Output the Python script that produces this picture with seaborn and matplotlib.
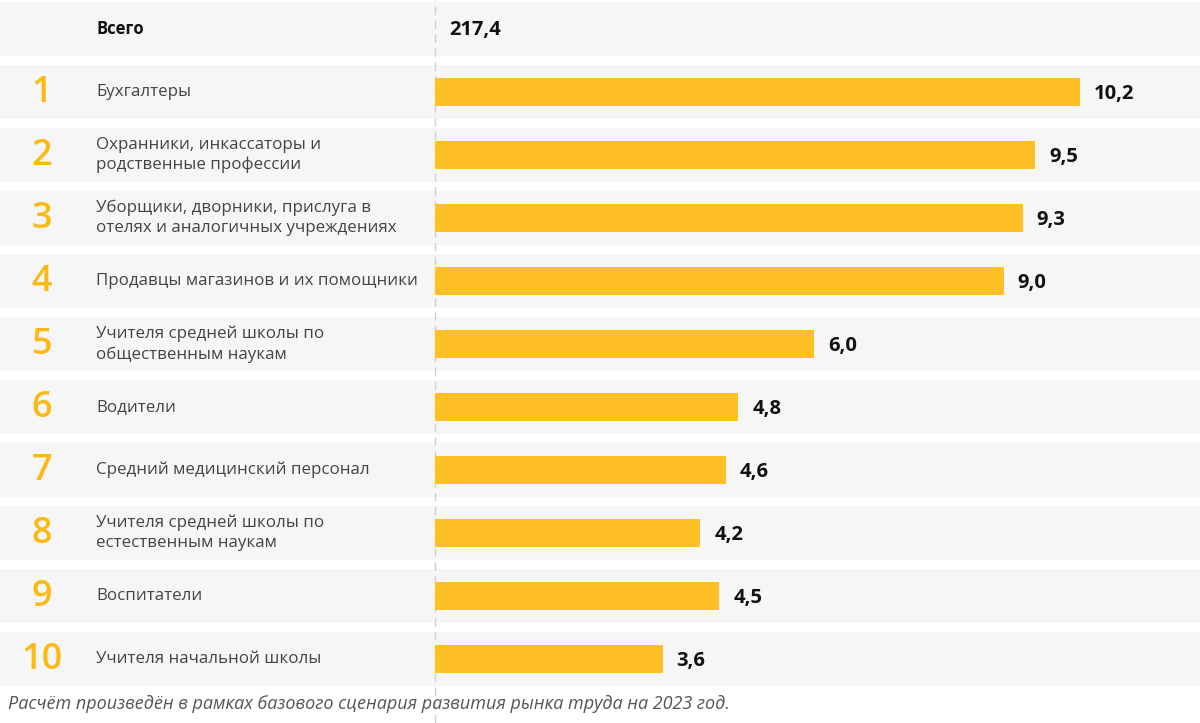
import pandas as pd
import seaborn as sns
import matplotlib.pyplot as plt

# данные
ranks = [1, 2, 3, 4, 5, 6, 7, 8, 9, 10]
professions = [
    'Бухгалтеры',
    'Охранники, инкассаторы и\nродственные профессии',
    'Уборщики, дворники, прислуга в\nотелях и аналогичных учреждениях',
    'Продавцы магазинов и их помощники',
    'Учителя средней школы по\nобщественным наукам',
    'Водители',
    'Средний медицинский персонал',
    'Учителя средней школы по\nестественным наукам',
    'Воспитатели',
    'Учителя начальной школы',
]
values = [10.2, 9.5, 9.3, 9.0, 6.0, 4.8, 4.6, 4.2, 4.5, 3.6]
total_label = 'Всего'
total_value = 217.4
footnote = 'Расчёт произведён в рамках базового сценария развития рынка труда на 2023 год.'

df = pd.DataFrame({'rank': ranks, 'profession': professions, 'value': values})

sns.set_style('white')
plt.rcParams['font.family'] = ['Open Sans', 'DejaVu Sans']

fig = plt.figure(figsize=(12, 7.23), dpi=100)
ax = fig.add_axes([0, 0, 1, 1])

# масштаб: 0 -> x=435 px, 63.2 px на единицу; строки через 63 px
px = 63.2
ax.set_xlim(-435 / px, (1200 - 435) / px)
ax.set_ylim((723 - 29) / 63, -29 / 63)

# серые полосы
for i in range(11):
    ax.axhspan(i - 0.43, i + 0.43, color='#f6f6f6', zorder=0, lw=0)

ax.axvline(0, color='#cfcfcf', lw=1, ls=(0, (6, 4)), zorder=1)

sns.barplot(data=df, x='value', y='rank', orient='h', native_scale=True,
            color='#ffc026', saturation=1, width=0.46, linewidth=0,
            ax=ax, zorder=2)

# строка "Всего"
ax.text(-339 / px, 0, total_label, fontsize=12, fontweight='bold',
        color='#111111', va='center', ha='left')
ax.text(14 / px, 0.02, f'{total_value:.1f}'.replace('.', ','), fontsize=14.5,
        fontweight='bold', color='#111111', va='center', ha='left')

for r, name, v in zip(ranks, professions, values):
    ax.text(-393 / px, r + 0.02, str(r), fontsize=26, fontweight='semibold',
            color='#fdb913', va='center', ha='center')
    ax.text(-339 / px, r, name, fontsize=12.2, color='#444444',
            va='center', ha='left', linespacing=1.35)
    ax.text(v + 14 / px, r + 0.03, f'{v:.1f}'.replace('.', ','), fontsize=14.5,
            fontweight='bold', color='#111111', va='center', ha='left')

ax.text(-427 / px, (704 - 29) / 63, footnote, fontsize=13, style='italic',
        color='#555555', va='center', ha='left')

ax.set_axis_off()

plt.savefig('out.png', dpi=100)
